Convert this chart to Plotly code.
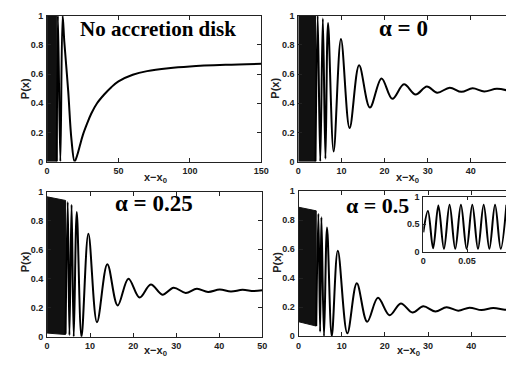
import plotly.graph_objects as go

W, H = 514, 366

# ---------------- data ----------------
# Panel 1: no accretion disk
p1_band_x = [0, 6.8]
p1_band_lo = [0.0, 0.0]
p1_band_hi = [1.0, 1.0]
p1_x = [6.8, 7.6, 9.3, 10.9, 12.1, 14.8, 17.1, 19.3, 21, 23, 25, 28, 31, 35, 40, 45, 50, 60, 70, 85, 100, 125, 150]
p1_y = [0.0, 1.0, 0.0, 1.0, 0.82, 0.485, 0.15, 0.0, 0.04, 0.11, 0.18, 0.26, 0.33, 0.40, 0.46, 0.51, 0.55, 0.595, 0.62, 0.64, 0.652, 0.663, 0.67]

# Panel 2: alpha = 0
p2_band_x = [0, 4.0]
p2_band_lo = [0.0, 0.0]
p2_band_hi = [1.0, 1.0]
p2_x = [4.0, 4.5, 5.1, 5.7, 6.3, 6.9, 8.2, 9.9, 11.9, 14.1, 16.6, 19.3, 21.8, 24.5, 27.2, 29.8, 32.2, 35.1, 37.8, 40.4, 43.1, 46.0, 48.7]
p2_y = [0.0, 1.0, 0.0, 0.98, 0.02, 0.95, 0.07, 0.84, 0.23, 0.66, 0.37, 0.57, 0.43, 0.53, 0.46, 0.515, 0.472, 0.507, 0.478, 0.502, 0.481, 0.499, 0.486]

# Panel 3: alpha = 0.25
p3_band_x = [0, 4.3]
p3_band_lo = [0.025, 0.015]
p3_band_hi = [0.965, 0.94]
p3_x = [4.3, 4.8, 5.2, 5.7, 6.2, 6.9, 8.0, 9.6, 11.6, 14.0, 16.4, 18.9, 21.5, 24.1, 26.8, 29.4, 32.2, 34.8, 37.4, 40.1, 42.7, 45.4, 48.0, 50.0]
p3_y = [0.02, 0.93, 0.01, 0.91, 0.0, 0.86, 0.0, 0.71, 0.10, 0.50, 0.215, 0.40, 0.27, 0.36, 0.29, 0.338, 0.302, 0.331, 0.309, 0.325, 0.312, 0.323, 0.315, 0.32]

# Panel 4: alpha = 0.5
p4_band_x = [0, 4.1]
p4_band_lo = [0.10, 0.07]
p4_band_hi = [0.89, 0.865]
p4_x = [4.1, 4.6, 5.0, 5.3, 5.9, 6.6, 7.7, 9.1, 11.3, 13.5, 15.9, 18.4, 21.1, 23.7, 26.4, 28.9, 31.7, 34.3, 37.0, 39.6, 42.4, 45.1, 47.8, 48.5]
p4_y = [0.07, 0.845, 0.03, 0.82, 0.0, 0.75, 0.0, 0.59, 0.02, 0.365, 0.10, 0.265, 0.145, 0.226, 0.163, 0.206, 0.170, 0.200, 0.176, 0.197, 0.180, 0.194, 0.183, 0.185]

# Inset of panel 4 (small x)
in_x = [0.0, 0.0053, 0.0112, 0.0172, 0.0236, 0.0300, 0.0365, 0.0430, 0.0495, 0.0560, 0.0625, 0.0690, 0.0755, 0.0820, 0.0885, 0.0950]
in_y = [0.35, 0.74, 0.06, 0.84, 0.05, 0.85, 0.05, 0.85, 0.05, 0.85, 0.05, 0.85, 0.05, 0.85, 0.05, 0.85]

titles = ["No accretion disk", "α = 0", "α = 0.25", "α = 0.5"]
ylabel = "P(x)"
xlabel = "x−x<sub>0</sub>"

p1_xticks = [0, 50, 100, 150]
p_xticks = [0, 10, 20, 30, 40, 50]
p_cut_xticks = [0, 10, 20, 30, 40]
p_yticks = [0, 0.2, 0.4, 0.6, 0.8, 1]
in_xticks = [0, 0.05]
in_yticks = [0, 0.5, 1]

# ---------------- figure ----------------
fig = go.Figure()
LINE = dict(color="black", width=2)


def add_panel(k, bx, blo, bhi, x, y):
    xa, ya = ("x", "y") if k == 1 else (f"x{k}", f"y{k}")
    fig.add_trace(go.Scatter(x=list(bx) + list(bx)[::-1], y=list(bhi) + list(blo)[::-1],
                             fill="toself", fillcolor="#111", mode="lines",
                             line=dict(color="#111", width=1), xaxis=xa, yaxis=ya,
                             showlegend=False, hoverinfo="skip"))
    fig.add_trace(go.Scatter(x=x, y=y, mode="lines", line=dict(shape="spline", smoothing=1.0, **LINE),
                             xaxis=xa, yaxis=ya, showlegend=False))


add_panel(1, p1_band_x, p1_band_lo, p1_band_hi, p1_x, p1_y)
add_panel(2, p2_band_x, p2_band_lo, p2_band_hi, p2_x, p2_y)
add_panel(3, p3_band_x, p3_band_lo, p3_band_hi, p3_x, p3_y)
add_panel(4, p4_band_x, p4_band_lo, p4_band_hi, p4_x, p4_y)
fig.add_trace(go.Scatter(x=in_x, y=in_y, mode="lines", line=dict(shape="spline", smoothing=1.0, **LINE),
                         xaxis="x5", yaxis="y5", showlegend=False))

tickfont = dict(family="Liberation Sans", size=9, color="#222", weight="bold")


def px_x(a, b):
    return [a / W, min(b / W, 1.0)]


def px_y(top, bottom):
    return [1 - bottom / H, 1 - top / H]


def xax(dom, rng, tv, anchor):
    return dict(domain=dom, range=rng, anchor=anchor, tickvals=tv, ticks="inside", ticklen=4,
                tickwidth=1, tickcolor="#222", showline=True, linecolor="#222", linewidth=1,
                mirror="ticks", showgrid=False, zeroline=False, tickfont=tickfont, ticklabelstandoff=1)


def yax(dom, tv, anchor, mirror):
    return dict(domain=dom, range=[0, 1], anchor=anchor, tickvals=tv, ticks="inside", ticklen=4,
                tickwidth=1, tickcolor="#222", showline=True, linecolor="#222", linewidth=1,
                mirror=mirror, showgrid=False, zeroline=False, tickfont=tickfont, ticklabelstandoff=1)


top = px_y(11, 161)
bot3 = px_y(192, 341)
bot4 = px_y(191.5, 340.5)

fig.update_layout(
    width=W, height=H, margin=dict(l=0, r=0, t=0, b=0),
    paper_bgcolor="white", plot_bgcolor="white",
    xaxis=xax(px_x(45, 264), [0, 150], p1_xticks, "y"),
    yaxis=yax(top, p_yticks, "x", "ticks"),
    xaxis2=xax(px_x(301.7, 514), [0, (514 - 301.7) / 4.41], p_cut_xticks, "y2"),
    yaxis2=yax(top, p_yticks, "x2", False),
    xaxis3=xax(px_x(45, 265), [0, 50], p_xticks, "y3"),
    yaxis3=yax(bot3, p_yticks, "x3", "ticks"),
    xaxis4=xax(px_x(302, 514), [0, (514 - 302) / 4.41], p_cut_xticks, "y4"),
    yaxis4=yax(bot4, p_yticks, "x4", False),
    xaxis5=xax(px_x(429.5, 514), [0, (514 - 429.5) / 894], in_xticks, "y5"),
    yaxis5=yax(px_y(197, 253.5), in_yticks, "x5", False),
)
fig.layout.xaxis5.ticklen = 3
fig.layout.yaxis5.ticklen = 3

ann = []
for text, cx, cy, fs in [(titles[0], 158.5, 24.5, 21), (titles[1], 409, 24, 23),
                         (titles[2], 154, 204.5, 23), (titles[3], 383, 206, 22)]:
    ann.append(dict(text=text, x=cx / W, y=1 - cy / H, xref="paper", yref="paper",
                    xanchor="center", yanchor="middle", showarrow=False,
                    font=dict(family="Liberation Serif", size=fs, color="black", weight="bold")))

lfont = dict(family="Liberation Sans", size=11, color="#222", weight="bold")
for cx, cy in [(22, 86), (278, 86), (22, 264), (280, 265)]:
    ann.append(dict(text=ylabel, x=cx / W, y=1 - cy / H, xref="paper", yref="paper", textangle=-90,
                    xanchor="center", yanchor="middle", showarrow=False, font=lfont))
for cx, cy in [(156, 178), (413, 178), (156, 356), (414, 356)]:
    ann.append(dict(text=xlabel, x=cx / W, y=1 - cy / H, xref="paper", yref="paper",
                    xanchor="center", yanchor="middle", showarrow=False, font=lfont))
fig.update_layout(annotations=ann)

fig.write_html("out.html")
